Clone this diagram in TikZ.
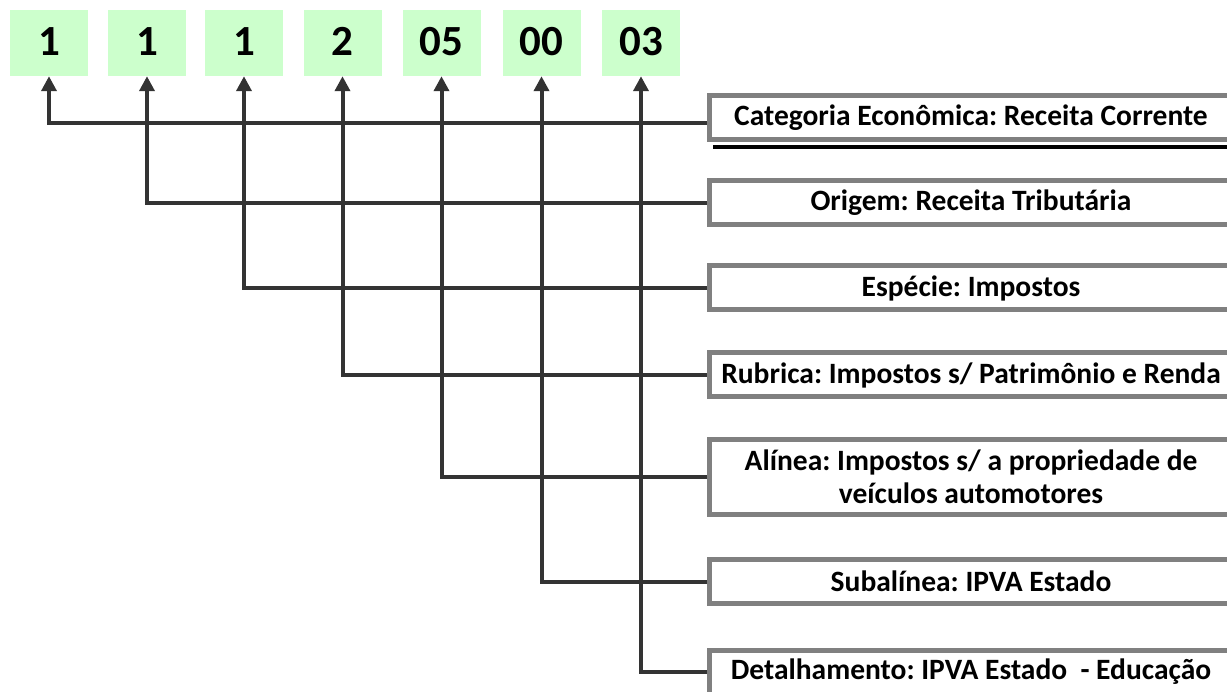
\documentclass[tikz,border=0pt]{standalone}
\usepackage{fontspec}
\setmainfont{Carlito}
\usepackage{tikz}
\usetikzlibrary{arrows.meta}
\definecolor{digitgreen}{HTML}{CCFFCC}
\definecolor{linkgray}{HTML}{333333}
\definecolor{boxgray}{HTML}{808080}
\frenchspacing
\begin{document}
\begin{tikzpicture}[x=1pt,y=-1pt,
  digit/.style={fill=digitgreen,minimum width=78pt,minimum height=66pt,inner sep=0pt,
    text height=26pt,text depth=0pt,font=\fontsize{43}{43}\selectfont\bfseries},
  level/.style={draw=boxgray,line width=5pt,fill=white,minimum width=523pt,minimum height=44pt,
    inner sep=0pt,align=center,font=\fontsize{29.5}{33}\selectfont\bfseries},
  link/.style={draw=linkgray,line width=4pt,-{Triangle[width=15pt,length=15pt]}}]
\useasboundingbox (0,0) rectangle (1227,692);
\clip (0,0) rectangle (1227,692);
\node[digit] (n1) at (49,43) {1};
\node[digit] (n2) at (147,43) {1};
\node[digit] (n3) at (244,43) {1};
\node[digit] (n4) at (342.5,43) {2};
\node[digit] (n5) at (441.5,43) {05};
\node[digit] (n6) at (541.5,43) {00};
\node[digit] (n7) at (641,43) {03};
\node[level] (cat) at (971,117.5) {Categoria Econômica: Receita Corrente};
\node[level] (ori) at (971,203) {Origem: Receita Tributária};
\node[level] (esp) at (971,288) {Espécie: Impostos};
\node[level] (rub) at (971,375) {Rubrica: Impostos s/ Patrimônio e Renda};
\node[level,minimum height=75pt] (ali) at (971,477) {Alínea: Impostos s/ a propriedade de\\veículos automotores};
\node[level] (sub) at (971,581.5) {Subalínea: IPVA Estado};
\node[level] (det) at (971,672) {Detalhamento: IPVA Estado \ - Educação};
\draw[line width=4.5pt] ([xshift=6pt,yshift=-5pt]cat.south west) -- ([yshift=-5pt]cat.south east);
\draw[link] ([yshift=-5.5pt]cat.west) -| (n1.south);
\draw[link] (ori.west) -| (n2.south);
\draw[link] (esp.west) -| (n3.south);
\draw[link] (rub.west) -| (n4.south);
\draw[link] (ali.west) -| (n5.south);
\draw[link] (sub.west) -| (n6.south);
\draw[link] (det.west) -| (n7.south);
\end{tikzpicture}
\end{document}
